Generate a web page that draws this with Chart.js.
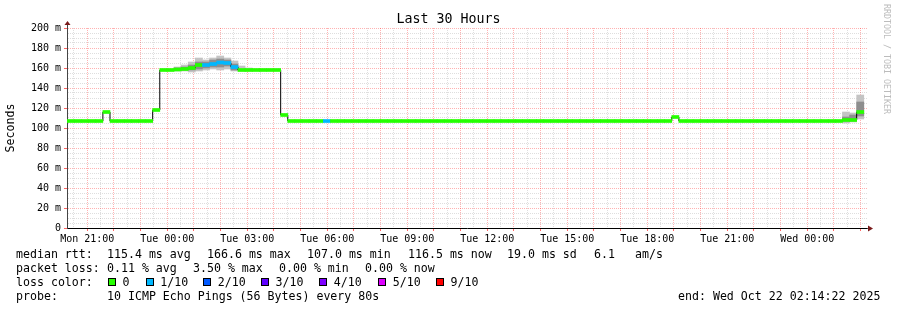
<!DOCTYPE html>
<html>
<head>
<meta charset="utf-8">
<script src="https://cdn.jsdelivr.net/npm/chart.js@4.4.0/dist/chart.umd.min.js"></script>
<style>
  body { margin: 0; background: #fff; }
  #wrap { position: relative; width: 897px; height: 310px; font-family: 'DejaVu Sans Mono', monospace; color: #000; overflow: hidden; }
  #wrap canvas { position: absolute; left: 0; top: 0; }
  .t { position: absolute; white-space: pre; font-size: 11.6px; line-height: 14px; }
  .box { position: absolute; width: 6px; height: 6px; border: 1px solid #000; }
  #title { position: absolute; left: 0; width: 897px; top: 11px; text-align: center; font-size: 13.3px; line-height: 16px; }
  #credit { position: absolute; left: 882px; top: 4px; writing-mode: vertical-rl; font-size: 8.3px; color: #bcbcbc; }
</style>
</head>
<body>
<div id="wrap">
  <canvas id="smokeChart" width="897" height="310"></canvas>
  <div id="title">Last 30 Hours</div>
  <div id="credit">RRDTOOL / TOBI OETIKER</div>
  <div id="legend"></div>
</div>
<script>
    // time axis, hours counted from Mon 00:00
    const startHour = 20.2394;   // Mon 20:14:22
    const endHour = 50.2394;     // Wed 02:14:22
    const firstBinHour = 20.2518;
    const binHours = 16 / 60;
    const dayNames = ['Mon', 'Tue', 'Wed'];

    // median rtt per 16 min bin (ms)
    const median = [
        107, 107, 107, 107, 107, 116, 107, 107, 107, 107,
        107, 107, 118, 158, 158, 158.5, 159, 160, 163, 163,
        164, 165.5, 165, 161, 158, 158, 158, 158, 158, 158,
        113, 107, 107, 107, 107, 107, 107, 107, 107, 107,
        107, 107, 107, 107, 107, 107, 107, 107, 107, 107,
        107, 107, 107, 107, 107, 107, 107, 107, 107, 107,
        107, 107, 107, 107, 107, 107, 107, 107, 107, 107,
        107, 107, 107, 107, 107, 107, 107, 107, 107, 107,
        107, 107, 107, 107, 107, 111, 107, 107, 107, 107,
        107, 107, 107, 107, 107, 107, 107, 107, 107, 107,
        107, 107, 107, 107, 107, 107, 107, 107, 107, 108,
        108, 116
    ];

    // lost pings out of 10 per bin
    const loss = [
        0, 0, 0, 0, 0, 0, 0, 0, 0, 0,
        0, 0, 0, 0, 0, 0, 0, 0, 0, 1,
        1, 1, 1, 1, 0, 0, 0, 0, 0, 0,
        0, 0, 0, 0, 0, 0, 1, 0, 0, 0,
        0, 0, 0, 0, 0, 0, 0, 0, 0, 0,
        0, 0, 0, 0, 0, 0, 0, 0, 0, 0,
        0, 0, 0, 0, 0, 0, 0, 0, 0, 0,
        0, 0, 0, 0, 0, 0, 0, 0, 0, 0,
        0, 0, 0, 0, 0, 0, 0, 0, 0, 0,
        0, 0, 0, 0, 0, 0, 0, 0, 0, 0,
        0, 0, 0, 0, 0, 0, 0, 0, 0, 0,
        0, 0
    ];

    // smoke (spread of the 10 pings) where it is visible
    const smokeBins    = [15, 16, 17, 18, 19, 20, 21, 22, 23, 24, 25, 109, 110, 111];
    const smokeOuterLo = [157, 157, 156, 157, 158, 159, 158, 159, 157, 157, 157, 105, 106, 109];
    const smokeOuterHi = [161, 163, 166, 170, 168, 170, 172, 170, 167, 162, 160, 116, 115, 133];
    const smokeInnerLo = [158, 158, 158, 159, 160, 161, 161, 162, 158, null, null, 107, 108, 112];
    const smokeInnerHi = [160, 161, 163, 166, 166, 168, 169, 168, 164, null, null, 111, 113, 126];

    const lossSteps = [0, 1, 2, 3, 4, 5, 9];
    const lossLabels = ['0', '1/10', '2/10', '3/10', '4/10', '5/10', '9/10'];
    const lossColors = ['#26ff00', '#00b8ff', '#0059ff', '#5e00ff', '#7e00ff', '#dd00ff', '#ff0000'];

    const binCenter = i => firstBinHour + (i + 0.5) * binHours;
    const colorForLoss = n => {
        let c = lossColors[0];
        lossSteps.forEach((s, k) => { if (n >= s) c = lossColors[k]; });
        return c;
    };

    // legend text below the graph
    const legendRows = [
        [[16, 'median rtt:'], [107, '115.4 ms avg'], [207, '166.6 ms max'], [307, '107.0 ms min'], [408, '116.5 ms now'], [507, '19.0 ms sd'], [594, '6.1'], [635, 'am/s']],
        [[16, 'packet loss:'], [107, '0.11 % avg'], [193, '3.50 % max'], [279, '0.00 % min'], [365, '0.00 % now']],
        [[16, 'loss color:']],
        [[16, 'probe:'], [107, '10 ICMP Echo Pings (56 Bytes) every 80s'], [678, 'end: Wed Oct 22 02:14:22 2025']]
    ];
    const boxLefts = [108, 145.7, 203.3, 261, 319.3, 378.3, 436];

    let html = '';
    legendRows.forEach((row, r) => {
        row.forEach(([left, text]) => {
            html += `<span class="t" style="left:${left}px;top:${247 + r * 14}px">${text}</span>`;
        });
    });
    lossLabels.forEach((label, k) => {
        html += `<span class="box" style="left:${boxLefts[k]}px;top:278px;background:${lossColors[k]}"></span>`;
        html += `<span class="t" style="left:${boxLefts[k] + 14.5}px;top:275px">${label}</span>`;
    });
    document.getElementById('legend').innerHTML = html;

    const red = 'rgba(255, 0, 0, 0.3)';
    const gray = 'rgba(0, 0, 0, 0.13)';
    const isWhole = v => Math.abs(v - Math.round(v)) < 1e-6;

    const axisArrows = {
        id: 'axisArrows',
        afterDraw(chart) {
            const { ctx, chartArea: a } = chart;
            ctx.save();
            ctx.strokeStyle = '#444';
            ctx.lineWidth = 1;
            ctx.beginPath();
            ctx.moveTo(a.left + 0.5, a.top);
            ctx.lineTo(a.left + 0.5, a.top - 4);
            ctx.moveTo(a.right, a.bottom + 0.5);
            ctx.lineTo(a.right + 2, a.bottom + 0.5);
            ctx.stroke();
            ctx.fillStyle = '#7a1a1a';
            ctx.beginPath();
            ctx.moveTo(a.left + 0.5, a.top - 7);
            ctx.lineTo(a.left - 2.5, a.top - 3);
            ctx.lineTo(a.left + 3.5, a.top - 3);
            ctx.fill();
            ctx.beginPath();
            ctx.moveTo(a.right + 6, a.bottom + 0.5);
            ctx.lineTo(a.right + 1, a.bottom - 2.5);
            ctx.lineTo(a.right + 1, a.bottom + 3.5);
            ctx.fill();
            ctx.restore();
        }
    };

    Chart.defaults.font.family = "'DejaVu Sans Mono', monospace";
    Chart.defaults.color = '#000';

    new Chart(document.getElementById('smokeChart'), {
        type: 'bar',
        data: {
            datasets: [
                {
                    label: 'median',
                    order: 0,
                    grouped: false,
                    data: median.map((m, i) => ({ x: binCenter(i), y: [m - 1.5, m + 1.5] })),
                    backgroundColor: median.map((m, i) => colorForLoss(loss[i])),
                    borderWidth: 0,
                    barPercentage: 1,
                    categoryPercentage: 1
                },
                {
                    type: 'line',
                    label: 'median line',
                    order: 1,
                    data: median.map((m, i) => ({ x: binCenter(i), y: m })),
                    stepped: 'middle',
                    borderColor: '#000',
                    borderWidth: 1,
                    pointRadius: 0,
                    fill: false
                },
                {
                    label: 'smoke inner',
                    order: 2,
                    grouped: false,
                    data: smokeBins.map((b, k) => ({ x: binCenter(b), y: smokeInnerLo[k] === null ? null : [smokeInnerLo[k], smokeInnerHi[k]] })),
                    backgroundColor: '#8e8e8e',
                    borderWidth: 0,
                    barPercentage: 1,
                    categoryPercentage: 1
                },
                {
                    label: 'smoke outer',
                    order: 3,
                    grouped: false,
                    data: smokeBins.map((b, k) => ({ x: binCenter(b), y: [smokeOuterLo[k], smokeOuterHi[k]] })),
                    backgroundColor: '#c4c4c4',
                    borderWidth: 0,
                    barPercentage: 1,
                    categoryPercentage: 1
                }
            ]
        },
        options: {
            responsive: false,
            animation: false,
            devicePixelRatio: 1,
            layout: { padding: { left: 0, right: 30, top: 28, bottom: 60 } },
            plugins: {
                legend: { display: false },
                tooltip: { enabled: false }
            },
            scales: {
                x: {
                    type: 'linear',
                    min: startHour,
                    max: endHour,
                    offset: false,
                    afterFit: scale => { scale.height = 22; },
                    // grid every half hour on the clock, not from the window start
                    afterBuildTicks: scale => {
                        const ticks = [];
                        for (let h = Math.ceil(scale.min * 2) / 2; h <= scale.max; h += 0.5) {
                            ticks.push({ value: h });
                        }
                        scale.ticks = ticks;
                    },
                    grid: {
                        offset: false,
                        color: c => isWhole(c.tick.value) ? red : gray,
                        tickColor: c => isWhole(c.tick.value) ? 'rgba(255, 0, 0, 0.6)' : 'rgba(0,0,0,0)',
                        tickLength: 3
                    },
                    border: { color: '#000', dash: [1, 1] },
                    ticks: {
                        autoSkip: false,
                        maxRotation: 0,
                        minRotation: 0,
                        padding: 2,
                        font: { size: 10 },
                        callback: v => {
                            const h = Math.round(v * 2) / 2;
                            if (h % 3 !== 0) return '';
                            const hh = h % 24;
                            return dayNames[Math.floor(h / 24)] + ' ' + String(hh).padStart(2, '0') + ':00';
                        }
                    }
                },
                y: {
                    min: 0,
                    max: 200,
                    afterFit: scale => { scale.width = 67; },
                    grid: {
                        color: c => c.tick.value % 20 === 0 ? red : gray,
                        tickColor: c => c.tick.value % 20 === 0 ? 'rgba(255, 0, 0, 0.6)' : 'rgba(0,0,0,0)',
                        tickLength: 3
                    },
                    border: { color: '#444', dash: [1, 1] },
                    title: {
                        display: true,
                        text: 'Seconds',
                        font: { size: 11.6 },
                        padding: { top: 4, bottom: 0 }
                    },
                    ticks: {
                        stepSize: 5,
                        autoSkip: false,
                        padding: 3,
                        font: { size: 10 },
                        callback: v => v % 20 === 0 ? (v === 0 ? '0' : v + ' m') : ''
                    }
                }
            }
        },
        plugins: [axisArrows]
    });
</script>
</body>
</html>
